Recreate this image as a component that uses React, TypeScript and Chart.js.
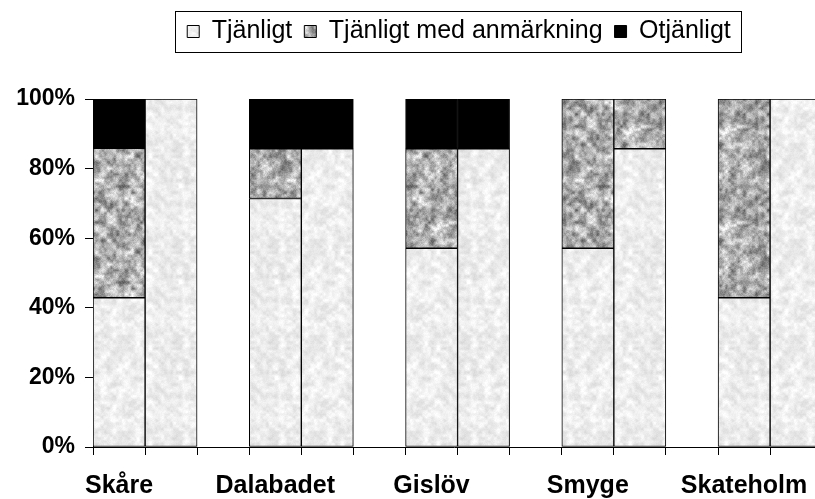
import React, { useEffect, useRef } from 'react';
import { Chart, registerables } from 'chart.js';

Chart.register(...registerables);

// ---- data ----
const categories = ['Skåre', 'Dalabadet', 'Gislöv', 'Smyge', 'Skateholm'];
const seriesNames = ['Tjänligt', 'Tjänligt med anmärkning', 'Otjänligt'];
// first bar of each location
const firstTjanligt = [42.9, 71.4, 57.1, 57.1, 42.9];
const firstAnmarkning = [42.9, 14.3, 28.6, 42.9, 57.1];
const firstOtjanligt = [14.2, 14.3, 14.3, 0, 0];
// second bar of each location
const secondTjanligt = [100, 85.7, 85.7, 85.7, 100];
const secondAnmarkning = [0, 0, 0, 14.3, 0];
const secondOtjanligt = [0, 14.3, 14.3, 0, 0];
const yTickValues = [0, 20, 40, 60, 80, 100];

const FONT = '"Liberation Sans", Arial, Helvetica, sans-serif';

// deterministic hash for texture grain (style only)
function hash(i: number, j: number, seed: number): number {
  let h = (i * 374761393 + j * 668265263 + seed * 982451653) | 0;
  h = Math.imul(h ^ (h >>> 13), 1274126177);
  h = h ^ (h >>> 16);
  return ((h >>> 0) % 10007) / 10007;
}

function noiseLayer(size: number, cells: number, seed: number): Float32Array {
  const out = new Float32Array(size * size);
  for (let py = 0; py < size; py++) {
    for (let px = 0; px < size; px++) {
      const fx = (px / size) * cells;
      const fy = (py / size) * cells;
      const i0 = Math.floor(fx), j0 = Math.floor(fy);
      let tx = fx - i0, ty = fy - j0;
      tx = tx * tx * (3 - 2 * tx);
      ty = ty * ty * (3 - 2 * ty);
      const i1 = (i0 + 1) % cells, j1 = (j0 + 1) % cells;
      const a = hash(i0, j0, seed), b = hash(i1, j0, seed);
      const c = hash(i0, j1, seed), d = hash(i1, j1, seed);
      const top = a + (b - a) * tx;
      const bot = c + (d - c) * tx;
      out[py * size + px] = top + (bot - top) * ty - 0.5;
    }
  }
  return out;
}

function makeTexture(base: number, amp: number, seed: number): CanvasPattern | string {
  const size = 96;
  const c = document.createElement('canvas');
  c.width = size;
  c.height = size;
  const ctx = c.getContext('2d');
  if (!ctx) return `rgb(${base},${base},${base})`;
  const n1 = noiseLayer(size, 16, seed);
  const n2 = noiseLayer(size, 32, seed + 7);
  const n3 = noiseLayer(size, 96, seed + 13);
  const img = ctx.createImageData(size, size);
  for (let k = 0; k < size * size; k++) {
    const v = base + amp * (1.0 * n1[k] + 0.8 * n2[k] + 0.3 * n3[k]);
    const g = Math.max(0, Math.min(255, Math.round(v)));
    img.data[k * 4] = g;
    img.data[k * 4 + 1] = g;
    img.data[k * 4 + 2] = g;
    img.data[k * 4 + 3] = 255;
  }
  ctx.putImageData(img, 0, 0);
  const p = ctx.createPattern(c, 'repeat');
  return p || `rgb(${base},${base},${base})`;
}

const LEGEND_LEFT = 103;

const legendLayout = {
  id: 'legendLayout',
  beforeLayout(chart: any) {
    const lg = chart.legend;
    if (lg && !lg._gapPatched) {
      const fit = lg.fit.bind(lg);
      lg.fit = () => {
        fit();
        lg.height += 45;
      };
      lg._gapPatched = true;
    }
  },
  afterLayout(chart: any) {
    const lg = chart.legend;
    if (lg) lg.left = LEGEND_LEFT;
  },
};

const legendFrame = {
  id: 'legendFrame',
  afterDraw(chart: any) {
    const lg = chart.legend;
    const boxes = lg && lg.legendHitBoxes;
    if (!boxes || !boxes.length) return;
    let l = Infinity, r = -Infinity, t = Infinity, b = -Infinity;
    boxes.forEach((h: any) => {
      l = Math.min(l, h.left);
      r = Math.max(r, h.left + h.width);
      t = Math.min(t, h.top);
      b = Math.max(b, h.top + h.height);
    });
    const ctx = chart.ctx;
    ctx.save();
    ctx.strokeStyle = '#000';
    ctx.lineWidth = 1;
    ctx.strokeRect(Math.round(l - 12) + 0.5, Math.round(t - 8) + 0.5, Math.round(r - l + 22), Math.round(b - t + 16));
    ctx.restore();
  },
};

export default function App() {
  const canvasRef = useRef<HTMLCanvasElement | null>(null);

  useEffect(() => {
    const canvas = canvasRef.current;
    if (!canvas) return;
    const light = makeTexture(238, 26, 3);
    const granite = makeTexture(172, 95, 11);
    const fills = [light, granite, '#000000'];

    const toPoints = (arr: number[]) => arr.map((v, i) => ({ x: i, y: v }));
    const firstSets = [firstTjanligt, firstAnmarkning, firstOtjanligt];
    const secondSets = [secondTjanligt, secondAnmarkning, secondOtjanligt];

    const datasets: any[] = [];
    firstSets.forEach((arr, k) => {
      datasets.push({
        label: seriesNames[k],
        data: toPoints(arr),
        stack: 'first',
        backgroundColor: fills[k],
        borderColor: '#000',
        borderWidth: 1,
        borderSkipped: false,
        barThickness: 52,
      });
    });
    secondSets.forEach((arr, k) => {
      datasets.push({
        label: seriesNames[k] + ' ',
        data: toPoints(arr),
        stack: 'second',
        backgroundColor: fills[k],
        borderColor: '#000',
        borderWidth: 1,
        borderSkipped: false,
        barThickness: 52,
      });
    });

    // x ticks every sixth of a category: even ones carry tick marks, labels sit under the first bar
    const xMin = -1 / 3;
    const xTicks: number[] = [];
    for (let k = 0; k <= 27; k++) xTicks.push(xMin + k / 6);

    const chart = new Chart(canvas, {
      type: 'bar',
      data: { datasets },
      plugins: [legendLayout, legendFrame],
      options: {
        animation: false,
        responsive: false,
        maintainAspectRatio: false,
        layout: { padding: { left: 0, right: 0, top: 7, bottom: 0 } },
        plugins: {
          tooltip: { enabled: false },
          legend: {
            position: 'top',
            align: 'center',
            labels: {
              filter: (item: any) => item.datasetIndex < 3,
              boxWidth: 12,
              boxHeight: 12,
              padding: 12,
              color: '#000',
              font: { family: FONT, size: 25 },
            },
          },
        },
        scales: {
          x: {
            type: 'linear',
            offset: false,
            min: xMin,
            max: xMin + 722 / 156.25,
            stacked: true,
            afterFit: (scale: any) => {
              scale.height = 52;
            },
            afterBuildTicks: (scale: any) => {
              scale.ticks = xTicks.map((v) => ({ value: v }));
            },
            grid: {
              display: true,
              offset: false,
              drawOnChartArea: false,
              drawTicks: true,
              tickLength: 8,
              color: '#000',
              tickColor: (ctx: any) => (ctx.index % 2 === 0 ? '#000' : 'rgba(0,0,0,0)'),
            },
            border: { display: true, color: '#000', width: 1 },
            ticks: {
              autoSkip: false,
              maxRotation: 0,
              minRotation: 0,
              padding: 16,
              color: '#000',
              font: { family: FONT, size: 25, weight: 'bold' },
              callback: (_v: any, index: number) =>
                (index - 1) % 6 === 0 ? categories[(index - 1) / 6] : '',
            },
          },
          y: {
            type: 'linear',
            min: 0,
            max: 100,
            stacked: true,
            afterFit: (scale: any) => {
              scale.width = 93;
            },
            afterBuildTicks: (scale: any) => {
              scale.ticks = yTickValues.map((v) => ({ value: v }));
            },
            grid: {
              display: true,
              drawOnChartArea: false,
              drawTicks: true,
              tickLength: 8,
              color: '#000',
            },
            border: { display: true, color: '#000', width: 1 },
            ticks: {
              padding: 10,
              color: '#000',
              font: { family: FONT, size: 23, weight: 'bold' },
              callback: (v: any) => `${v}%`,
            },
          },
        },
      } as any,
    });

    return () => chart.destroy();
  }, []);

  return (
    <div style={{ position: 'fixed', left: 0, top: 0, width: 815, height: 499, overflow: 'hidden', background: '#fff' }}>
      <canvas ref={canvasRef} width={815} height={499} style={{ display: 'block', width: 815, height: 499 }} />
    </div>
  );
}
